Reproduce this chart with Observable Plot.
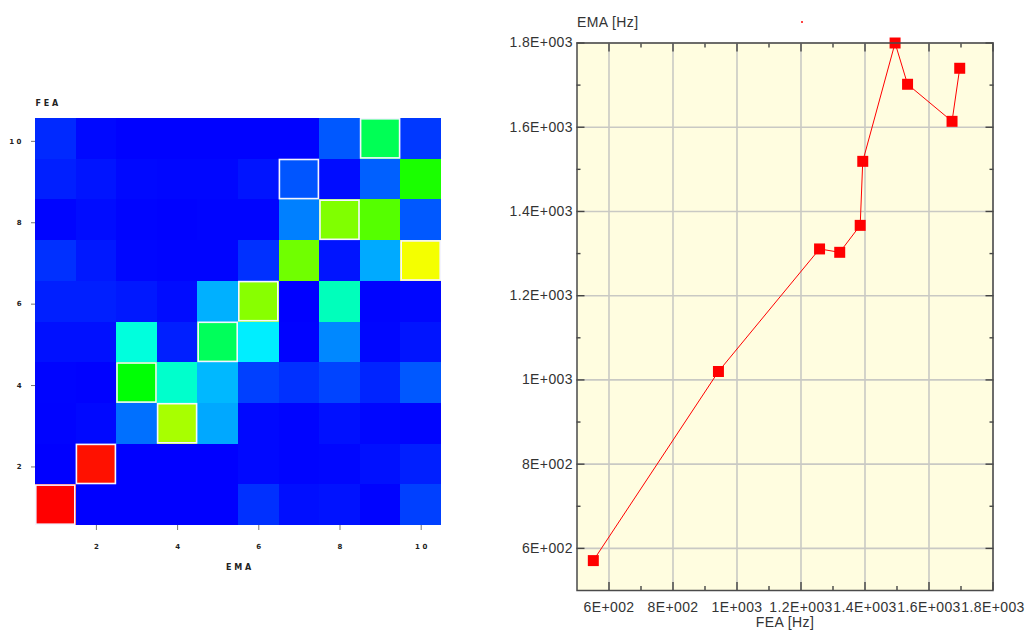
<!DOCTYPE html>
<html><head><meta charset="utf-8">
<script src="https://cdn.jsdelivr.net/npm/d3@7"></script>
<script src="https://cdn.jsdelivr.net/npm/@observablehq/plot@0.6"></script>
<style>
body{margin:0;background:#fff;}
#wrap{position:relative;width:1027px;height:633px;overflow:hidden;background:#fff;}
#left{position:absolute;left:0;top:0;}
#right{position:absolute;left:500px;top:0;}
#right svg text{letter-spacing:0.4px;}
#speck{position:absolute;left:801px;top:21px;width:2px;height:2px;background:#f44;}
</style></head><body>
<div id="wrap"><div id="left"></div><div id="right"></div><div id="speck"></div></div>
<script>
// ---- Data ----
const emaModes = [1,2,3,4,5,6,7,8,9,10];
const feaModes = [1,2,3,4,5,6,7,8,9,10];
// MAC values, one row per FEA mode (1..10), columns = EMA modes 1..10
const mac1  = [1.000,0.000,0.000,0.000,0.000,0.047,0.014,0.018,0.003,0.063];
const mac2  = [0.000,0.983,0.000,0.000,0.000,0.008,0.004,0.006,0.016,0.030];
const mac3  = [0.003,0.008,0.110,0.665,0.165,0.008,0.004,0.016,0.006,0.004];
const mac4  = [0.004,0.002,0.495,0.300,0.180,0.063,0.047,0.067,0.035,0.086];
const mac5  = [0.016,0.016,0.283,0.030,0.412,0.233,0.002,0.133,0.006,0.020];
const mac6  = [0.030,0.030,0.024,0.012,0.173,0.633,0.000,0.317,0.004,0.006];
const mac7  = [0.047,0.024,0.006,0.004,0.004,0.047,0.610,0.020,0.167,0.739];
const mac8  = [0.004,0.012,0.004,0.002,0.004,0.004,0.125,0.625,0.583,0.086];
const mac9  = [0.030,0.020,0.008,0.006,0.006,0.020,0.083,0.012,0.094,0.525];
const mac10 = [0.040,0.008,0.002,0.002,0.002,0.002,0.002,0.086,0.417,0.055];
const macRows = [mac1,mac2,mac3,mac4,mac5,mac6,mac7,mac8,mac9,mac10];
// paired modes (highlighted cells)
const pairEMA = [1,2,3,4,5,6,7,8,9,10];
const pairFEA = [1,2,4,3,5,6,9,8,10,7];
const matrixTicks = [2,4,6,8,10];
// frequency comparison (Hz)
const feaFreq = [551, 942, 1258, 1321, 1385, 1393, 1494, 1533, 1672, 1696];
const emaFreq = [571, 1020, 1311, 1303, 1367, 1519, 1800, 1702, 1614, 1740];
const freqMajor = [600,800,1000,1200,1400,1600,1800];
const freqMinor = [700,900,1100,1300,1500,1700];
const freqDomain = [500,1800];

// ---- Left: MAC matrix ----
const cells = [];
macRows.forEach((row, i) => row.forEach((v, j) => cells.push({ema: emaModes[j], fea: feaModes[i], mac: v})));
const pairs = pairEMA.map((e, i) => ({ema: e, fea: pairFEA[i]}));
const jet = d3.piecewise(d3.interpolateRgb, ["#0000ff","#00ffff","#00ff00","#ffff00","#ff0000"]);
const spaced = d => String(d).split("").join(" ");

const left = Plot.plot({
  width: 500, height: 633,
  marginLeft: 35, marginRight: 59, marginTop: 118, marginBottom: 108,
  style: {fontFamily: "DejaVu Sans, sans-serif", background: "#fff"},
  x: {type: "band", domain: emaModes, padding: 0, round: false},
  y: {type: "band", domain: feaModes, padding: 0, reverse: true, round: false},
  color: {type: "linear", domain: [0, 1], interpolate: jet},
  marks: [
    Plot.cell(cells, {x: "ema", y: "fea", fill: "mac", shapeRendering: "crispEdges"}),
    Plot.cell(pairs, {x: "ema", y: "fea", fill: "none", stroke: "#f4f4ff", strokeWidth: 1.6, inset: 0.8}),
    Plot.axisX(matrixTicks, {anchor: "bottom", tickSize: 5, tickPadding: 14, tickFormat: spaced,
      fontSize: 7, fontWeight: "bold", stroke: "#777", fill: "#222", label: null}),
    Plot.axisY(matrixTicks, {anchor: "left", tickSize: 4, tickPadding: 10, tickFormat: spaced, dy: 2.5,
      fontSize: 7, fontWeight: "bold", stroke: "#777", fill: "#222", label: null}),
    Plot.text(["E M A"], {frameAnchor: "bottom", dy: 44, fontSize: 8, fontWeight: "bold", fill: "#222"}),
    Plot.text(["F E A"], {frameAnchor: "top-left", dy: -18, textAnchor: "start", fontSize: 8, fontWeight: "bold", fill: "#222"})
  ]
});
document.getElementById("left").append(left);

// ---- Right: frequency comparison ----
const pts = feaFreq.map((f, i) => ({fea: f, ema: emaFreq[i]}));
const fmtE = d => {
  const e = Math.floor(Math.log10(d));
  const m = +(d / Math.pow(10, e)).toFixed(1);
  return `${m}E+${String(e).padStart(3, "0")}`;
};
const blank = () => "";
const tickCol = "#444";
const right = Plot.plot({
  width: 527, height: 633,
  marginLeft: 76.5, marginRight: 34.5, marginTop: 42.5, marginBottom: 43,
  style: {fontFamily: "Liberation Sans, Arial, sans-serif", background: "#fff", overflow: "visible"},
  x: {domain: freqDomain},
  y: {domain: freqDomain},
  marks: [
    Plot.frame({fill: "#fffde0"}),
    Plot.gridX(freqMajor, {stroke: "#c9c9c4", strokeOpacity: 1, strokeWidth: 1.6}),
    Plot.gridY(freqMajor, {stroke: "#c9c9c4", strokeOpacity: 1, strokeWidth: 1.6}),
    // inward tick marks on all four sides
    Plot.axisX(freqMajor, {anchor: "bottom", tickSize: 8, dy: -8, tickFormat: blank, stroke: tickCol, strokeWidth: 1.4, label: null}),
    Plot.axisX(freqMinor, {anchor: "bottom", tickSize: 4, dy: -4, tickFormat: blank, stroke: tickCol, strokeWidth: 1.4, label: null}),
    Plot.axisX(freqMajor, {anchor: "top", tickSize: 8, dy: 8, tickFormat: blank, stroke: tickCol, strokeWidth: 1.4, label: null}),
    Plot.axisX(freqMinor, {anchor: "top", tickSize: 4, dy: 4, tickFormat: blank, stroke: tickCol, strokeWidth: 1.4, label: null}),
    Plot.axisY(freqMajor, {anchor: "left", tickSize: 8, dx: 8, tickFormat: blank, stroke: tickCol, strokeWidth: 1.4, label: null}),
    Plot.axisY(freqMinor, {anchor: "left", tickSize: 4, dx: 4, tickFormat: blank, stroke: tickCol, strokeWidth: 1.4, label: null}),
    Plot.axisY(freqMajor, {anchor: "right", tickSize: 8, dx: -8, tickFormat: blank, stroke: tickCol, strokeWidth: 1.4, label: null}),
    Plot.axisY(freqMinor, {anchor: "right", tickSize: 4, dx: -4, tickFormat: blank, stroke: tickCol, strokeWidth: 1.4, label: null}),
    // tick labels
    Plot.axisX(freqMajor, {anchor: "bottom", tickSize: 0, tickPadding: 12, tickFormat: fmtE, fontSize: 14, fill: "#333", label: null}),
    Plot.axisY(freqMajor, {anchor: "left", tickSize: 0, tickPadding: 4, tickFormat: fmtE, fontSize: 14, fill: "#333", label: null}),
    Plot.line(pts, {x: "fea", y: "ema", stroke: "#ff0000", strokeWidth: 1}),
    Plot.dot(pts, {x: "fea", y: "ema", symbol: "square", r: 6.2, fill: "#ff0000", stroke: "none"}),
    Plot.frame({stroke: "#4a4a4a", strokeWidth: 1.5}),
    Plot.text(["EMA [Hz]"], {frameAnchor: "top-left", dy: -26, textAnchor: "start", fontSize: 14, fill: "#333"}),
    Plot.text(["FEA [Hz]"], {frameAnchor: "bottom", dy: 36, fontSize: 14, fill: "#333"})
  ]
});
document.getElementById("right").append(right);
</script>
</body></html>
